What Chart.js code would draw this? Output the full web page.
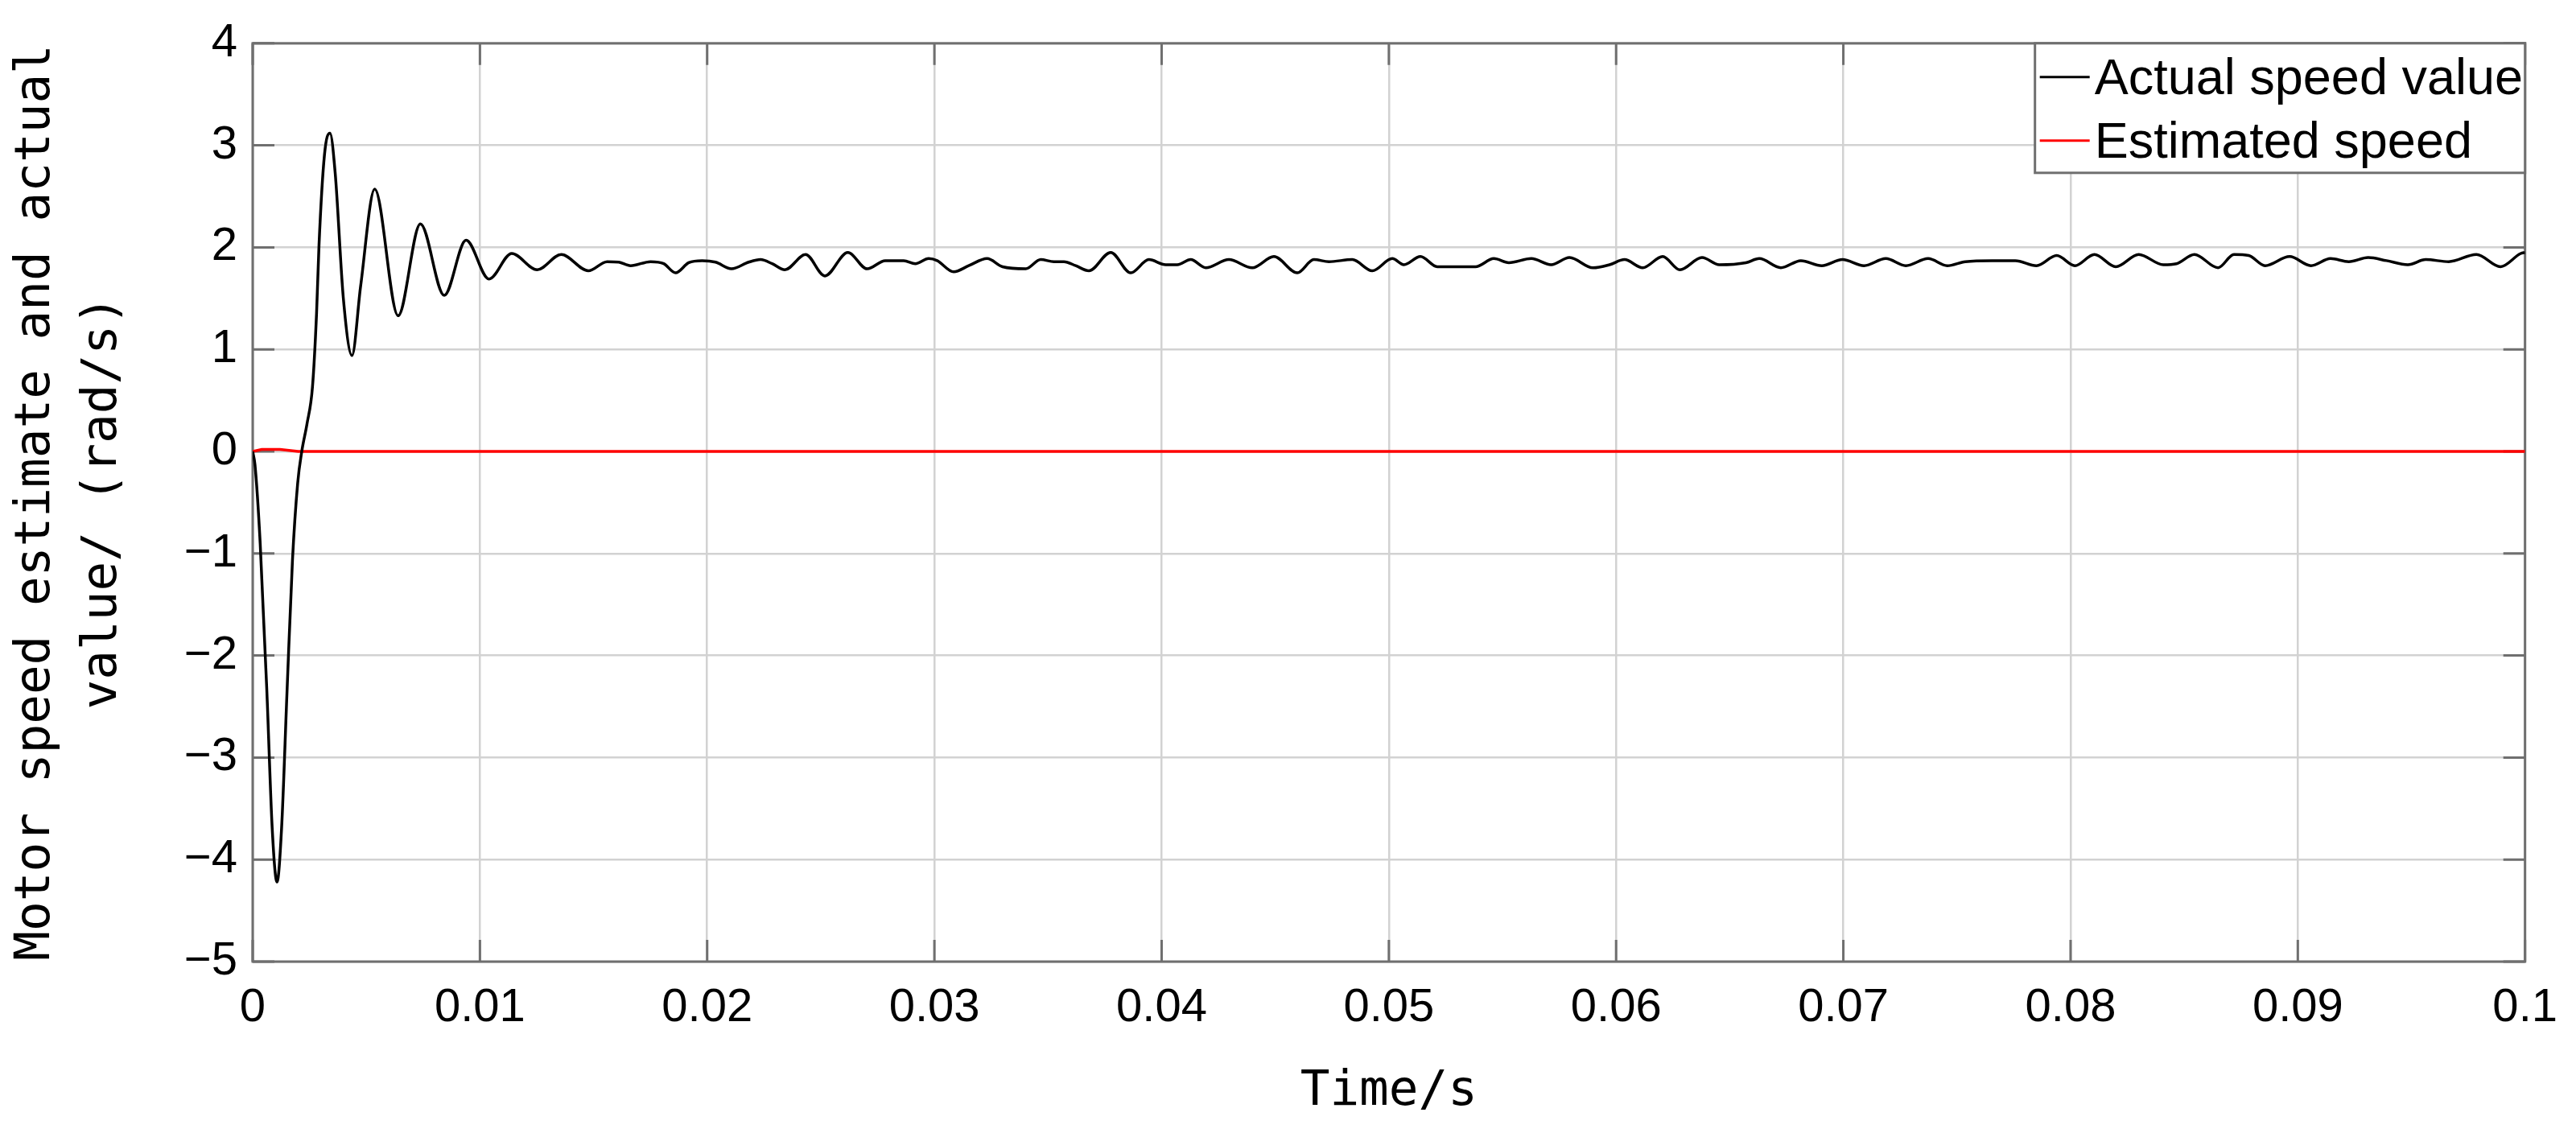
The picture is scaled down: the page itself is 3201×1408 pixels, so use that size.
<!DOCTYPE html>
<html>
<head>
<meta charset="utf-8">
<title>Motor speed estimate and actual value</title>
<script src="https://cdn.jsdelivr.net/npm/chart.js@4.4.1/dist/chart.umd.min.js"></script>
<style>
    html, body { margin: 0; padding: 0; background: #ffffff; }
    #chart-box { width: 3201px; height: 1408px; }
</style>
</head>
<body>
<div id="chart-box"><canvas id="speed-chart" width="3201" height="1408"></canvas></div>
<script>
// values
const actualLabel = 'Actual speed value';
const estimatedLabel = 'Estimated speed';

const actualTime = [
    0, 0.0001, 0.00033, 0.000625, 0.00086, 0.00107, 0.00127, 0.00151, 0.00175, 0.00198,
    0.00216, 0.00239, 0.00263, 0.00281, 0.00292, 0.00316, 0.0034, 0.00363, 0.00399, 0.00437,
    0.00475, 0.00537, 0.0064, 0.00738, 0.00843, 0.00939, 0.0104, 0.0114, 0.01252, 0.01358,
    0.01477, 0.0156, 0.01611, 0.01663, 0.01751, 0.01809, 0.01861, 0.01919, 0.01978, 0.02037,
    0.02107, 0.02183, 0.02235, 0.02286, 0.02342, 0.02433, 0.02518, 0.02619, 0.02704, 0.02784,
    0.02865, 0.02916, 0.02975, 0.03012, 0.03085, 0.03151, 0.03232, 0.0330, 0.03402, 0.03468,
    0.03526, 0.0357, 0.03622, 0.0368, 0.03776, 0.03864, 0.03944, 0.04018, 0.04069, 0.04128,
    0.04194, 0.04296, 0.04399, 0.04494, 0.04597, 0.0467, 0.04736, 0.04839, 0.04927, 0.05015,
    0.05066, 0.05139, 0.05213, 0.05308, 0.05381, 0.05462, 0.05528, 0.05627, 0.05714, 0.05795,
    0.05898, 0.05971, 0.06037, 0.06117, 0.06205, 0.06281, 0.06378, 0.06454, 0.06571, 0.0663,
    0.06725, 0.06813, 0.06905, 0.06996, 0.07091, 0.07187, 0.07275, 0.07373, 0.07457, 0.07537,
    0.07654, 0.07757, 0.0785, 0.07939, 0.08019, 0.08105, 0.08199, 0.083, 0.08408, 0.08466,
    0.08545, 0.08649, 0.08719, 0.08784, 0.08856, 0.08964, 0.09058, 0.09144, 0.09224, 0.0931,
    0.0939, 0.09484, 0.09563, 0.09664, 0.09786, 0.09892, 0.09981, 0.1
];
const actualSpeed = [
    0, -0.13, -0.9, -2.36, -3.7, -4.22, -3.7, -2.36, -1.07, -0.31,
    0, 0.27, 0.63, 1.35, 2.03, 2.91, 3.12, 2.73, 1.5, 0.94,
    1.62, 2.57, 1.33, 2.23, 1.53, 2.07, 1.69, 1.94, 1.78, 1.93,
    1.77, 1.86, 1.855, 1.82, 1.86, 1.84, 1.75, 1.85, 1.87, 1.855,
    1.79, 1.855, 1.88, 1.84, 1.78, 1.93, 1.72, 1.95, 1.79, 1.87,
    1.87, 1.84, 1.89, 1.87, 1.76, 1.82, 1.89, 1.81, 1.79, 1.88,
    1.86, 1.86, 1.82, 1.77, 1.95, 1.75, 1.88, 1.83, 1.83, 1.88,
    1.80, 1.88, 1.80, 1.91, 1.75, 1.88, 1.86, 1.88, 1.77, 1.89,
    1.83, 1.91, 1.81, 1.81, 1.81, 1.89, 1.85, 1.89, 1.83, 1.90,
    1.80, 1.83, 1.88, 1.80, 1.91, 1.78, 1.90, 1.83, 1.85, 1.89,
    1.80, 1.87, 1.82, 1.88, 1.82, 1.89, 1.82, 1.89, 1.82, 1.86,
    1.87, 1.87, 1.82, 1.92, 1.82, 1.93, 1.81, 1.93, 1.83, 1.84,
    1.93, 1.80, 1.93, 1.92, 1.82, 1.91, 1.82, 1.89, 1.86, 1.90,
    1.87, 1.83, 1.88, 1.86, 1.93, 1.81, 1.94, 1.95
];

const estimatedTime = [0, 0.0004, 0.0012, 0.002, 0.003, 0.01, 0.03, 0.05, 0.07, 0.1];
const estimatedSpeed = [0, 0.02, 0.02, 0.0, 0.0, 0.0, 0.0, 0.0, 0.0, 0.0];

const xTickValues = [0, 0.01, 0.02, 0.03, 0.04, 0.05, 0.06, 0.07, 0.08, 0.09, 0.1];
const xTickLabels = ['0', '0.01', '0.02', '0.03', '0.04', '0.05', '0.06', '0.07', '0.08', '0.09', '0.1'];
const yTickValues = [-5, -4, -3, -2, -1, 0, 1, 2, 3, 4];
const yTickLabels = ['\u22125', '\u22124', '\u22123', '\u22122', '\u22121', '0', '1', '2', '3', '4'];

const xTitle = 'Time/s';
const yTitle = ['Motor speed estimate and actual', 'value/ (rad/s)'];

const frameColor = '#6f6f6f';
const gridColor = '#d2d2d2';

function toPoints(xs, ys) {
    return xs.map((x, i) => ({ x: x, y: ys[i] }));
}

// MATLAB-like axes box with inward tick marks
const framePlugin = {
    id: 'frame',
    beforeDatasetsDraw(chart) {
        const { ctx, chartArea: a, scales } = chart;
        const len = 27;
        ctx.save();
        ctx.strokeStyle = frameColor;
        ctx.lineWidth = 3;
        ctx.beginPath();
        scales.y.ticks.forEach(t => {
            const py = scales.y.getPixelForValue(t.value);
            ctx.moveTo(a.left, py); ctx.lineTo(a.left + len, py);
            ctx.moveTo(a.right, py); ctx.lineTo(a.right - len, py);
        });
        scales.x.ticks.forEach(t => {
            const px = scales.x.getPixelForValue(t.value);
            ctx.moveTo(px, a.bottom); ctx.lineTo(px, a.bottom - len);
            ctx.moveTo(px, a.top); ctx.lineTo(px, a.top + len);
        });
        ctx.stroke();
        ctx.strokeRect(a.left, a.top, a.right - a.left, a.bottom - a.top);
        ctx.restore();
    }
};

// legend box in the top right corner of the axes
const legendPlugin = {
    id: 'boxLegend',
    afterDraw(chart) {
        const { ctx, chartArea: a } = chart;
        const boxW = 609, boxH = 161;
        const left = a.right - boxW, top = a.top;
        ctx.save();
        ctx.fillStyle = '#ffffff';
        ctx.fillRect(left, top, boxW, boxH);
        ctx.strokeStyle = frameColor;
        ctx.lineWidth = 3;
        ctx.strokeRect(left, top, boxW, boxH);
        ctx.font = '63px "Liberation Sans", Arial, sans-serif';
        ctx.textBaseline = 'middle';
        ctx.textAlign = 'left';
        const rows = [42, 121];
        chart.data.datasets.forEach((ds, i) => {
            const y = top + rows[i];
            ctx.strokeStyle = ds.borderColor;
            ctx.lineWidth = 3;
            ctx.beginPath();
            ctx.moveTo(left + 6, y);
            ctx.lineTo(left + 68, y);
            ctx.stroke();
            ctx.fillStyle = '#000000';
            ctx.fillText(ds.label, left + 74, y + 4);
        });
        ctx.restore();
    }
};

const canvas = document.getElementById('speed-chart');

new Chart(canvas, {
    type: 'line',
    data: {
        datasets: [{
            label: actualLabel,
            data: toPoints(actualTime, actualSpeed),
            borderColor: '#000000',
            borderWidth: 3.5,
            pointRadius: 0,
            fill: false,
            cubicInterpolationMode: 'monotone'
        }, {
            label: estimatedLabel,
            data: toPoints(estimatedTime, estimatedSpeed),
            borderColor: '#ff0000',
            borderWidth: 3.5,
            pointRadius: 0,
            fill: false
        }]
    },
    options: {
        responsive: false,
        animation: false,
        devicePixelRatio: 1,
        layout: {
            padding: { left: 0, top: 51, right: 57, bottom: 0 }
        },
        plugins: {
            legend: { display: false },
            tooltip: { enabled: false }
        },
        scales: {
            x: {
                type: 'linear',
                min: 0,
                max: 0.1,
                afterBuildTicks: scale => {
                    scale.ticks = xTickValues.map(v => ({ value: v }));
                },
                afterFit: scale => { scale.height = 213; },
                ticks: {
                    color: '#000000',
                    padding: 23,
                    maxRotation: 0,
                    autoSkip: false,
                    font: { family: '"Liberation Sans", Arial, sans-serif', size: 58 },
                    callback: (value, index) => xTickLabels[index]
                },
                grid: { color: gridColor, lineWidth: 2.5, drawTicks: false },
                border: { display: false },
                title: {
                    display: true,
                    text: xTitle,
                    color: '#000000',
                    padding: { top: 0, bottom: 14 },
                    font: { family: '"DejaVu Sans Mono", monospace', size: 61, lineHeight: 1.2 }
                }
            },
            y: {
                type: 'linear',
                min: -5,
                max: 4,
                afterBuildTicks: scale => {
                    scale.ticks = yTickValues.map(v => ({ value: v }));
                },
                afterFit: scale => { scale.width = 314; },
                ticks: {
                    color: '#000000',
                    padding: 19,
                    font: { family: '"Liberation Sans", Arial, sans-serif', size: 58 },
                    callback: (value, index) => yTickLabels[index]
                },
                grid: { color: gridColor, lineWidth: 2.5, drawTicks: false },
                border: { display: false },
                title: {
                    display: true,
                    text: yTitle,
                    color: '#000000',
                    padding: { top: 4, bottom: 0 },
                    font: { family: '"DejaVu Sans Mono", monospace', size: 61, lineHeight: 1.36 }
                }
            }
        }
    },
    plugins: [framePlugin, legendPlugin]
});
</script>
</body>
</html>
